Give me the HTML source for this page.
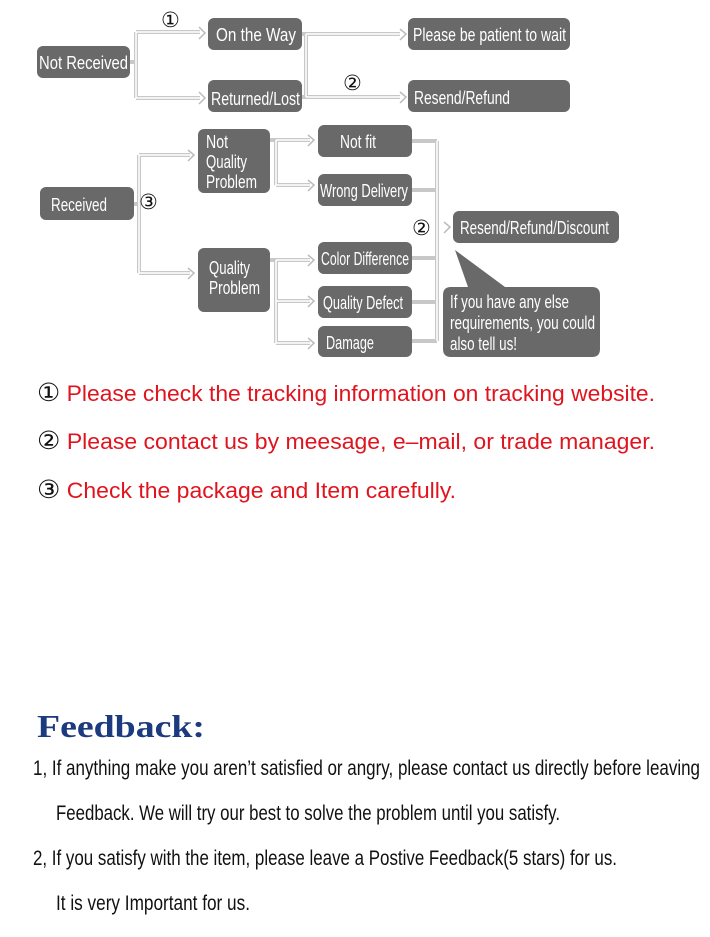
<!DOCTYPE html>
<html><head><meta charset="utf-8"><style>
html,body{margin:0;padding:0;background:#fff;}
svg{display:block}
.b{fill:#696969}
.t{fill:#fff;font-family:"Liberation Sans Narrow","Liberation Sans",sans-serif;font-size:18px}
.c{fill:none;stroke:#c8c8c8;stroke-width:4}
.ci{fill:none;stroke:#fff;stroke-width:1.5}
.ar{fill:none;stroke:#bbb;stroke-width:1.5}
.n{font-family:"DejaVu Sans",sans-serif;font-size:21px;fill:#111}
.r{font-family:"Liberation Sans",sans-serif;font-size:22px;fill:#e0141e}
.f{font-family:"Liberation Sans Narrow","Liberation Sans",sans-serif;font-size:21px;fill:#111}
</style></head><body>
<svg width="710" height="937" viewBox="0 0 710 937" xmlns="http://www.w3.org/2000/svg">
<g>
<path class="c" d="M130 62 H136 M136 32 V98 M136 32 H200 M136 98 H200"/>
<path class="c" d="M302 34 H306 M302 97 H306 M306 34 V97 M306 34 H400 M306 97 H400"/>
<path class="c" d="M134 204 H139 M139 155 V273 M139 155 H190 M139 273 H190"/>
<path class="c" d="M270 140 H276 M276 140 V185 M276 140 H310 M276 185 H310"/>
<path class="c" d="M270 260 H276 M276 260 V343 M276 260 H310 M276 301 H310 M276 343 H310"/>
<path class="c" d="M412 141 H437 M412 190 H437 M412 258 H437 M412 302 H437 M412 341 H437 M437 141 V341"/>
</g>
<g>
<path class="ci" d="M136 32 V98 M136 32 H200 M136 98 H200 M306 34 V97 M306 34 H400 M306 97 H400 M139 155 V273 M139 155 H190 M139 273 H190 M276 140 V185 M276 140 H310 M276 185 H310 M276 260 V343 M276 260 H310 M276 301 H310 M276 343 H310 M437 141 V341"/>
</g>
<g class="ar">
<path d="M199 27 L205 33 L199 39"/><path d="M199 92 L205 98 L199 104"/>
<path d="M400 29 L406 34 L400 40"/><path d="M400 92 L406 97 L400 103"/>
<path d="M188 150 L194 155 L188 161"/><path d="M188 268 L194 273 L188 279"/>
<path d="M308 135 L314 140 L308 146"/><path d="M308 180 L314 185 L308 191"/>
<path d="M308 255 L314 260 L308 266"/><path d="M308 296 L314 301 L308 307"/><path d="M308 338 L314 343 L308 349"/>
<path d="M444 222 L450 227 L444 233"/>
</g>
<rect class="b" x="37" y="46" width="93" height="32" rx="6"/>
<rect class="b" x="208" y="18" width="94" height="32" rx="6"/>
<rect class="b" x="208" y="80" width="94" height="32" rx="6"/>
<rect class="b" x="408" y="18" width="162" height="32" rx="6"/>
<rect class="b" x="408" y="80" width="162" height="32" rx="6"/>
<rect class="b" x="40" y="187" width="94" height="33" rx="6"/>
<rect class="b" x="198" y="129" width="72" height="64" rx="6"/>
<rect class="b" x="198" y="248" width="72" height="64" rx="6"/>
<rect class="b" x="318" y="125" width="94" height="32" rx="6"/>
<rect class="b" x="318" y="174" width="94" height="32" rx="6"/>
<rect class="b" x="318" y="242" width="94" height="32" rx="6"/>
<rect class="b" x="318" y="286" width="94" height="32" rx="6"/>
<rect class="b" x="318" y="326" width="94" height="31" rx="6"/>
<rect class="b" x="453" y="211" width="166" height="32" rx="6"/>
<path class="b" d="M455 250 L505 287 H592 Q600 287 600 295 V349 Q600 357 592 357 H451 Q443 357 443 349 V295 Q443 287 451 287 H468 Z"/>
<text class="t" x="39" y="69" textLength="89" lengthAdjust="spacingAndGlyphs">Not Received</text>
<text class="t" x="216" y="41" textLength="80" lengthAdjust="spacingAndGlyphs">On the Way</text>
<text class="t" x="211" y="105" textLength="89" lengthAdjust="spacingAndGlyphs">Returned/Lost</text>
<text class="t" x="413" y="41" textLength="153" lengthAdjust="spacingAndGlyphs">Please be patient to wait</text>
<text class="t" x="414" y="104" textLength="96" lengthAdjust="spacingAndGlyphs">Resend/Refund</text>
<text class="t" x="51" y="211" textLength="56" lengthAdjust="spacingAndGlyphs">Received</text>
<text class="t" x="206" y="148" textLength="22" lengthAdjust="spacingAndGlyphs">Not</text>
<text class="t" x="206" y="168" textLength="41" lengthAdjust="spacingAndGlyphs">Quality</text>
<text class="t" x="206" y="188" textLength="51" lengthAdjust="spacingAndGlyphs">Problem</text>
<text class="t" x="209" y="274" textLength="41" lengthAdjust="spacingAndGlyphs">Quality</text>
<text class="t" x="209" y="294" textLength="51" lengthAdjust="spacingAndGlyphs">Problem</text>
<text class="t" x="340" y="148" textLength="36" lengthAdjust="spacingAndGlyphs">Not fit</text>
<text class="t" x="320" y="197" textLength="88" lengthAdjust="spacingAndGlyphs">Wrong Delivery</text>
<text class="t" x="321" y="265" textLength="88" lengthAdjust="spacingAndGlyphs">Color Difference</text>
<text class="t" x="323" y="309" textLength="80" lengthAdjust="spacingAndGlyphs">Quality Defect</text>
<text class="t" x="326" y="349" textLength="48" lengthAdjust="spacingAndGlyphs">Damage</text>
<text class="t" x="460" y="234" textLength="149" lengthAdjust="spacingAndGlyphs">Resend/Refund/Discount</text>
<text class="t" x="450" y="308" textLength="119" lengthAdjust="spacingAndGlyphs">If you have any else</text>
<text class="t" x="450" y="329" textLength="145" lengthAdjust="spacingAndGlyphs">requirements, you could</text>
<text class="t" x="450" y="350" textLength="67" lengthAdjust="spacingAndGlyphs">also tell us!</text>
<text class="n" x="161" y="27">①</text>
<text class="n" x="343" y="90">②</text>
<text class="n" x="139" y="209">③</text>
<text class="n" x="412" y="235">②</text>
<text class="r" x="37" y="401" textLength="618" lengthAdjust="spacingAndGlyphs"><tspan fill="#111" font-size="25">①</tspan> Please check the tracking information on tracking website.</text>
<text class="r" x="37" y="449" textLength="618" lengthAdjust="spacingAndGlyphs"><tspan fill="#111" font-size="25">②</tspan> Please contact us by meesage, e–mail, or trade manager.</text>
<text class="r" x="37" y="498" textLength="419" lengthAdjust="spacingAndGlyphs"><tspan fill="#111" font-size="25">③</tspan> Check the package and Item carefully.</text>
<text x="37" y="737" font-family="Liberation Serif,serif" font-weight="bold" font-size="32" fill="#1c3a7e" textLength="168" lengthAdjust="spacingAndGlyphs">Feedback:</text>
<text class="f" x="33" y="775" textLength="667" lengthAdjust="spacingAndGlyphs">1, If anything make you aren’t satisfied or angry, please contact us directly before leaving</text>
<text class="f" x="56" y="820" textLength="504" lengthAdjust="spacingAndGlyphs">Feedback. We will try our best to solve the problem until you satisfy.</text>
<text class="f" x="33" y="865" textLength="584" lengthAdjust="spacingAndGlyphs">2, If you satisfy with the item, please leave a Postive Feedback(5 stars) for us.</text>
<text class="f" x="56" y="910" textLength="194" lengthAdjust="spacingAndGlyphs">It is very Important for us.</text>
</svg>
</body></html>
